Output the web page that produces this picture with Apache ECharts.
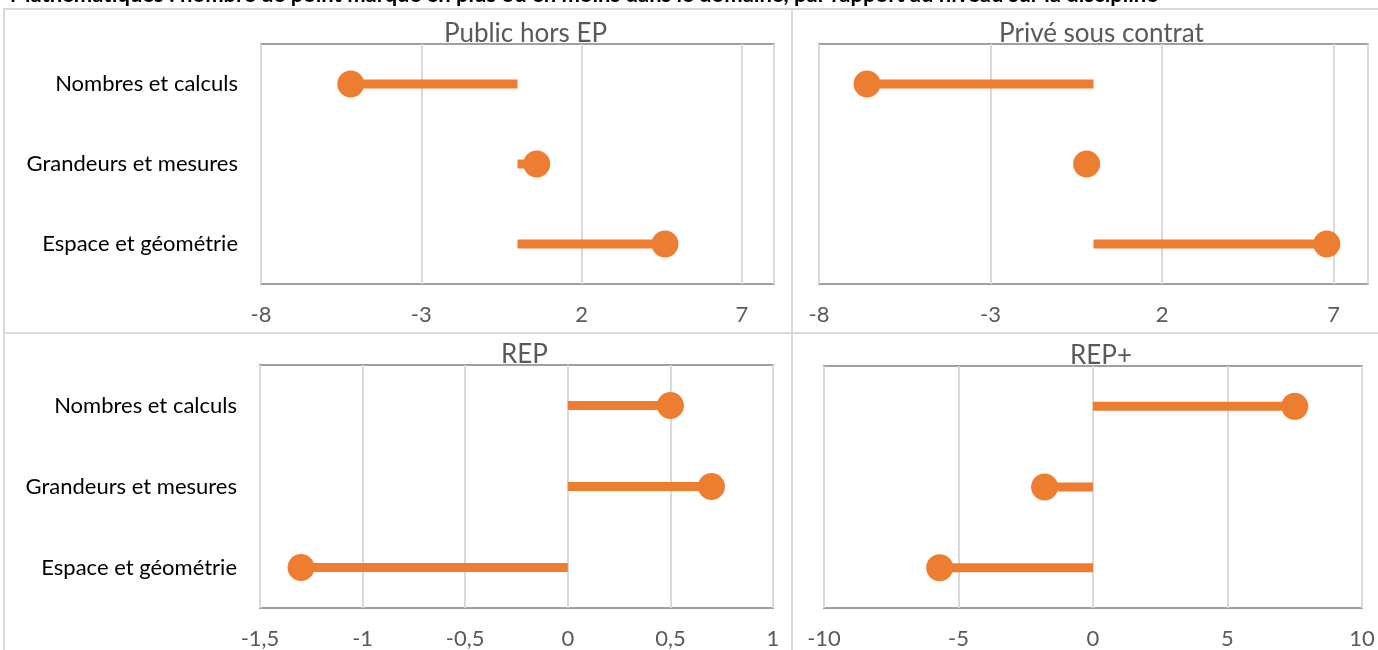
<!DOCTYPE html>
<html>
<head>
<meta charset="utf-8">
<script src="https://cdn.jsdelivr.net/npm/echarts@6/dist/echarts.min.js"></script>
<style>
html,body{margin:0;padding:0;background:#fff;}
#chart{width:1378px;height:650px;}
</style>
</head>
<body>
<div id="chart"></div>
<script>
const categories = ['Nombres et calculs', 'Grandeurs et mesures', 'Espace et géométrie'];
const panelTitles = ['Public hors EP', 'Privé sous contrat', 'REP', 'REP+'];
const publicHorsEP = [-5.2, 0.6, 4.6];
const priveSousContrat = [-6.6, -0.2, 6.8];
const rep = [0.5, 0.7, -1.3];
const repPlus = [7.5, -1.8, -5.7];
const pageTitle = 'Mathématiques : nombre de point marqué en plus ou en moins dans le domaine, par rapport au niveau sur la discipline';

const ORANGE = '#ED7D31';
const FONT = 'Lato, "Open Sans", sans-serif';

const grids = [
  {left: 261, top: 44, width: 513, height: 240},
  {left: 819, top: 44, width: 549, height: 240},
  {left: 260, top: 365, width: 513, height: 244},
  {left: 824, top: 366, width: 538, height: 243}
];
const panelData = [publicHorsEP, priveSousContrat, rep, repPlus];
const axisCfg = [
  {min: -8, max: 8, tickOffset: 8, tickInterval: 5, hideMax: true},
  {min: -8, max: 8, tickOffset: 8, tickInterval: 5, hideMax: true},
  {min: -1.5, max: 1, tickOffset: 0, tickInterval: 0.5, hideMax: false},
  {min: -10, max: 10, tickOffset: 0, tickInterval: 5, hideMax: false}
];

function fmt(v) {
  const r = Math.round(v * 100) / 100;
  return String(r).replace('.', ',');
}

const xAxis = [], yAxis = [], series = [], title = [];
grids.forEach((g, i) => {
  const c = axisCfg[i];
  xAxis.push({
    type: 'value', gridIndex: i, position: 'bottom',
    min: c.min + c.tickOffset, max: c.max + c.tickOffset, interval: c.tickInterval,
    axisLine: {show: false}, axisTick: {show: false},
    axisLabel: {color: '#595959', fontFamily: FONT, fontSize: 22, margin: 20,
      showMaxLabel: !c.hideMax, showMinLabel: true,
      formatter: v => fmt(v - c.tickOffset)},
    splitLine: {show: true, lineStyle: {color: '#d9d9d9', width: 2}}
  });
  xAxis.push({
    type: 'value', gridIndex: i, position: 'top', show: false,
    min: c.min, max: c.max,
    splitLine: {show: false}
  });
  yAxis.push({
    type: 'category', gridIndex: i, data: categories, inverse: true,
    axisLine: {show: false}, axisTick: {show: false},
    axisLabel: {show: i === 0 || i === 2, color: '#000', fontFamily: FONT, fontSize: 22, margin: 23},
    splitLine: {show: false}
  });
  const dataAxisIdx = i * 2 + 1;
  series.push({
    type: 'bar', xAxisIndex: dataAxisIdx, yAxisIndex: i,
    data: panelData[i], barWidth: 9,
    itemStyle: {color: ORANGE}, silent: true, animation: false
  });
  series.push({
    type: 'scatter', xAxisIndex: dataAxisIdx, yAxisIndex: i,
    data: panelData[i].map((v, k) => [v, categories[k]]),
    symbol: 'circle', symbolSize: 27,
    itemStyle: {color: ORANGE, opacity: 1}, silent: true, animation: false
  });
  title.push({
    text: panelTitles[i],
    left: g.left + g.width / 2 + 3, top: g.top - 28, textAlign: 'center',
    textStyle: {color: '#595959', fontFamily: FONT, fontSize: 26, fontWeight: 'normal'}
  });
});

const gridOpts = grids.map(g => Object.assign({}, g, {
  show: true, borderColor: '#a0a0a0', borderWidth: 2, backgroundColor: 'transparent', containLabel: false
}));

const chart = echarts.init(document.getElementById('chart'), null, {renderer: 'canvas'});
chart.setOption({
  animation: false,
  backgroundColor: '#fff',
  title: title,
  grid: gridOpts,
  xAxis: xAxis,
  yAxis: yAxis,
  series: series,
  graphic: [
    {type: 'rect', shape: {x: 4, y: 9, width: 788, height: 324}, style: {fill: 'none', stroke: '#d9d9d9', lineWidth: 2}, z: -1},
    {type: 'rect', shape: {x: 792, y: 9, width: 600, height: 324}, style: {fill: 'none', stroke: '#d9d9d9', lineWidth: 2}, z: -1},
    {type: 'rect', shape: {x: 4, y: 333, width: 788, height: 340}, style: {fill: 'none', stroke: '#d9d9d9', lineWidth: 2}, z: -1},
    {type: 'rect', shape: {x: 792, y: 333, width: 600, height: 340}, style: {fill: 'none', stroke: '#d9d9d9', lineWidth: 2}, z: -1},
    {type: 'text', x: 10, y: -5, style: {text: pageTitle, fill: '#000', font: 'bold 22px Lato, "Open Sans", sans-serif', verticalAlign: 'middle', align: 'left'}, z: 10}
  ]
});
</script>
</body>
</html>
